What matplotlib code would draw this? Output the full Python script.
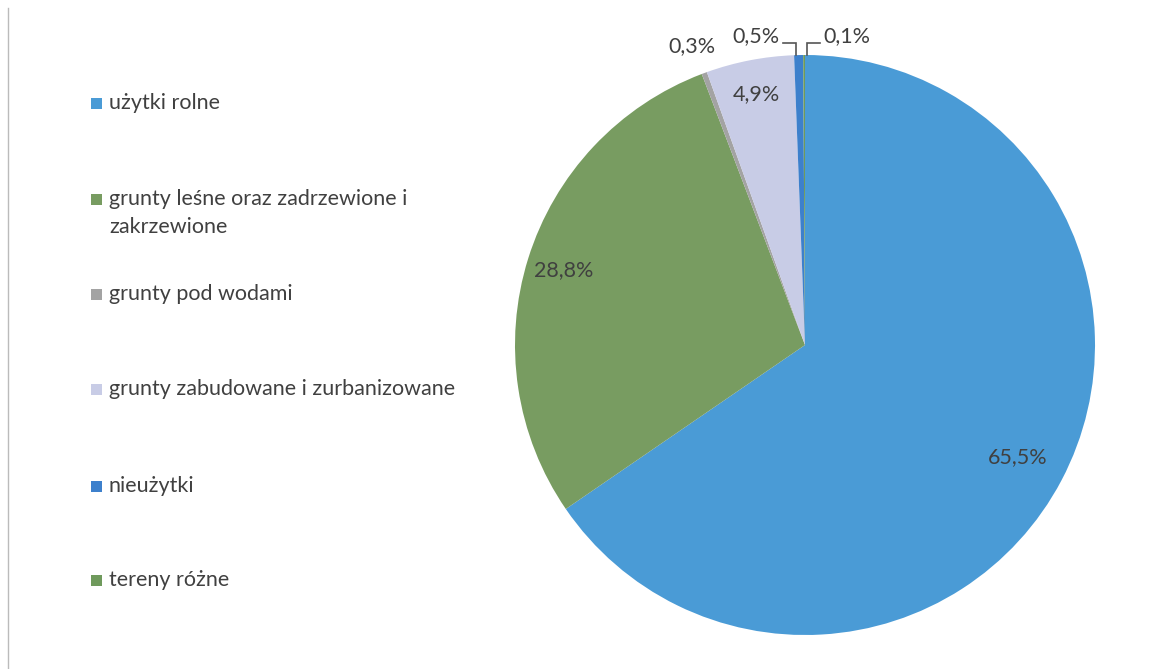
import numpy as np
import matplotlib
matplotlib.use('Agg')
import matplotlib.pyplot as plt
from matplotlib.patches import Rectangle

plt.rcParams['font.family'] = ['Lato', 'DejaVu Sans']

categories = ['użytki rolne', 'grunty leśne oraz zadrzewione i\nzakrzewione', 'grunty pod wodami',
              'grunty zabudowane i zurbanizowane', 'nieużytki', 'tereny różne']
shares = [65.5, 28.8, 0.3, 4.9, 0.5, 0.1]
pct_labels = ['65,5%', '28,8%', '0,3%', '4,9%', '0,5%', '0,1%']
colors = ['#4a9bd6', '#789c61', '#a3a3a3', '#c8cce6', '#3d80cc', '#6f9a5c']

W, H = 1154, 669
fig = plt.figure(figsize=(W / 100, H / 100), dpi=100)
text_col = '#404040'
fs = 15.5

cx, cy, r = 805, 345, 290
ax = fig.add_axes([(cx - r) / W, (H - cy - r) / H, 2 * r / W, 2 * r / H])
wedges, _ = ax.pie(shares, colors=colors, startangle=90, counterclock=False,
                   wedgeprops={'linewidth': 0})
ax.set_xlim(-1, 1)
ax.set_ylim(-1, 1)
ax.set_aspect('equal')

def mid_dir(w):
    a = np.deg2rad((w.theta1 + w.theta2) / 2)
    return np.cos(a), np.sin(a)

# inside labels
for i, d in [(0, 0.83), (1, 0.87), (3, 0.88)]:
    x, y = mid_dir(wedges[i])
    ax.text(x * d, y * d, pct_labels[i], ha='center', va='center', fontsize=fs, color=text_col)

# outside label for water
x, y = mid_dir(wedges[2])
ax.text(x * 1.12, y * 1.1, pct_labels[2], ha='center', va='center', fontsize=fs, color=text_col)

# small slices with leader lines
ytop = 1.04
for i, side in [(4, -1), (5, 1)]:
    x, y = mid_dir(wedges[i])
    xl = x + side * 0.01
    ax.plot([xl, xl, xl + side * 0.045], [y, ytop, ytop], color='#555555', lw=1.2,
            clip_on=False, solid_joinstyle='miter')
    ax.text(xl + side * 0.055, ytop + 0.025, pct_labels[i], ha='right' if side < 0 else 'left',
            va='center', fontsize=fs, color=text_col)

# legend
legend_y = [103, 199, 294, 389, 486, 580]
for lab, col, yp in zip(categories, colors, legend_y):
    fig.patches.append(Rectangle((91 / W, (H - yp - 5.5) / H), 11 / W, 11 / H,
                                 transform=fig.transFigure, facecolor=col, edgecolor='none'))
    lines = lab.split('\n')
    for k, line in enumerate(lines):
        fig.text(109 / W, (H - yp - 28 * k) / H, line, ha='left', va='center',
                 fontsize=fs, color=text_col)

# faint chart border on the left
fig.add_artist(plt.Line2D([8 / W, 8 / W], [0, 1 - 8 / H], transform=fig.transFigure,
                          color='#bbbbbb', lw=1))

fig.savefig('out.png', dpi=100, facecolor='white')
